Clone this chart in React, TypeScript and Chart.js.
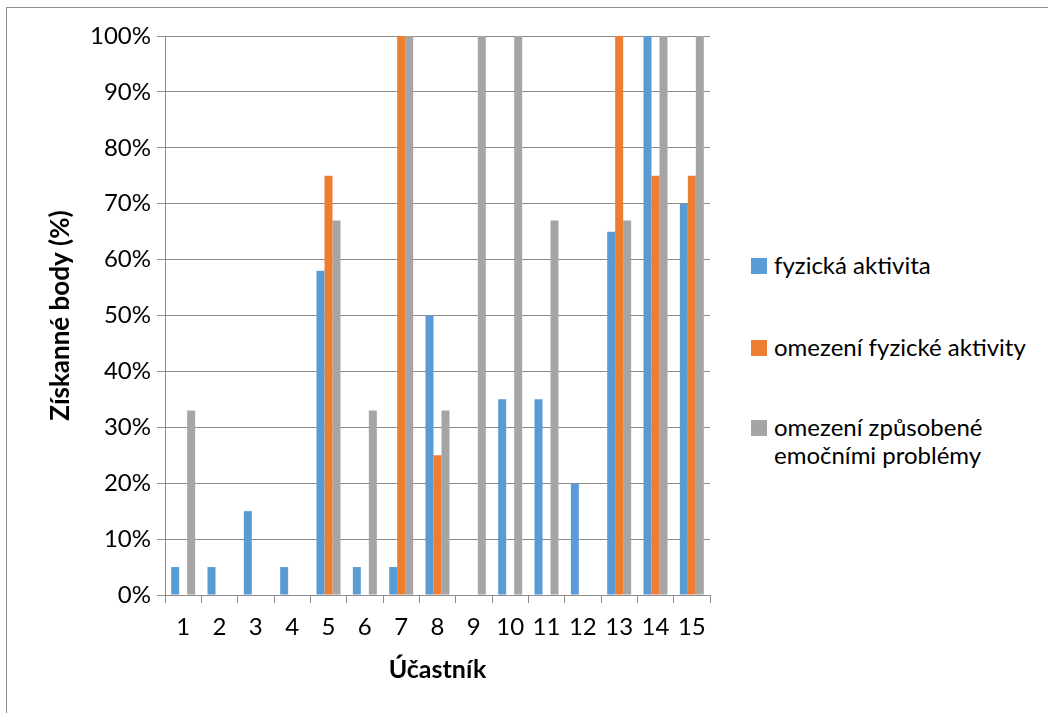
import React, { useEffect, useRef } from "react";
import { Chart, registerables } from "chart.js";

Chart.register(...registerables);

const categories = ["1", "2", "3", "4", "5", "6", "7", "8", "9", "10", "11", "12", "13", "14", "15"];
const fyzickaAktivita = [5, 5, 15, 5, 58, 5, 5, 50, 0, 35, 35, 20, 65, 100, 70];
const omezeniFyzicke = [0, 0, 0, 0, 75, 0, 100, 25, 0, 0, 0, 0, 100, 75, 75];
const omezeniEmocni = [33, 0, 0, 0, 67, 33, 100, 33, 100, 100, 67, 0, 67, 100, 100];
const seriesNames = ["fyzická aktivita", "omezení fyzické aktivity", "omezení způsobené emočními problémy"];
const legendLines = [["fyzická aktivita"], ["omezení fyzické aktivity"], ["omezení způsobené", "emočními problémy"]];
const colors = ["#5B9BD5", "#ED7D31", "#A5A5A5"];
const yTicks = [0, 10, 20, 30, 40, 50, 60, 70, 80, 90, 100];

const FONT = "Lato, 'Open Sans', sans-serif";
const FS = 24;

export default function App() {
  const canvasRef = useRef<HTMLCanvasElement | null>(null);

  useEffect(() => {
    document.body.style.margin = "0";
    const ctx = canvasRef.current!.getContext("2d")!;
    const values = [fyzickaAktivita, omezeniFyzicke, omezeniEmocni];
    const chart = new Chart(ctx, {
      type: "bar",
      data: {
        labels: categories,
        datasets: values.map((v, i) => ({
          label: seriesNames[i],
          data: v,
          backgroundColor: colors[i],
          borderWidth: 0,
          categoryPercentage: 0.66,
          barPercentage: 1.0,
        })),
      },
      options: {
        animation: false,
        responsive: false,
        maintainAspectRatio: false,
        layout: { padding: { top: 36, right: 30, left: 45, bottom: 28 } },
        plugins: {
          legend: { display: false },
          tooltip: { enabled: false },
        },
        scales: {
          x: {
            grid: {
              display: true,
              drawOnChartArea: false,
              drawTicks: true,
              tickLength: 8,
              color: "#8C8C8C",
              offset: true,
            },
            border: { display: true, color: "#8C8C8C", width: 1 },
            ticks: { color: "#000", font: { family: FONT, size: FS }, padding: 10, maxRotation: 0, autoSkip: false },
            title: {
              display: true,
              text: "Účastník",
              color: "#000",
              font: { family: FONT, size: 25, weight: "bold" },
              padding: { top: 0, bottom: 0 },
            },
            afterFit: (s: any) => {
              s.height = 713 - 28 - 595;
            },
          },
          y: {
            min: 0,
            max: 100,
            afterBuildTicks: (s: any) => {
              s.ticks = yTicks.map((v) => ({ value: v }));
            },
            grid: { color: "#8C8C8C", drawTicks: true, tickLength: 8 },
            border: { display: true, color: "#8C8C8C", width: 1 },
            ticks: {
              color: "#000",
              font: { family: FONT, size: FS },
              padding: 6,
              callback: (v: any) => v + "%",
            },
            title: {
              display: true,
              text: "Získanné body (%)",
              color: "#000",
              font: { family: FONT, size: 26, weight: "bold" },
              padding: { top: 0, bottom: 0 },
            },
            afterFit: (s: any) => {
              s.width = 165 - 45;
            },
          },
        },
      },
    });
    return () => chart.destroy();
  }, []);

  const centers = [266, 348, 428];

  return (
    <div style={{ position: "relative", width: 1048, height: 713, overflow: "hidden", background: "#fff" }}>
      <div
        style={{
          position: "absolute",
          left: 6,
          top: 7,
          width: 1100,
          height: 800,
          border: "1px solid #8C8C8C",
        }}
      />
      <canvas ref={canvasRef} width={740} height={713} style={{ position: "absolute", left: 0, top: 0 }} />
      <div style={{ position: "absolute", left: 751, top: 0, fontFamily: FONT, fontSize: FS, color: "#000" }}>
        {legendLines.map((lines, i) => (
          <div key={i} style={{ position: "absolute", top: centers[i], left: 0, whiteSpace: "nowrap" }}>
            <div style={{ position: "absolute", left: 0, top: -8, width: 16, height: 16, background: colors[i] }} />
            <div style={{ position: "absolute", left: 23, top: -15, lineHeight: "28px" }}>
              {lines.map((l, j) => (
                <div key={j}>{l}</div>
              ))}
            </div>
          </div>
        ))}
      </div>
    </div>
  );
}
